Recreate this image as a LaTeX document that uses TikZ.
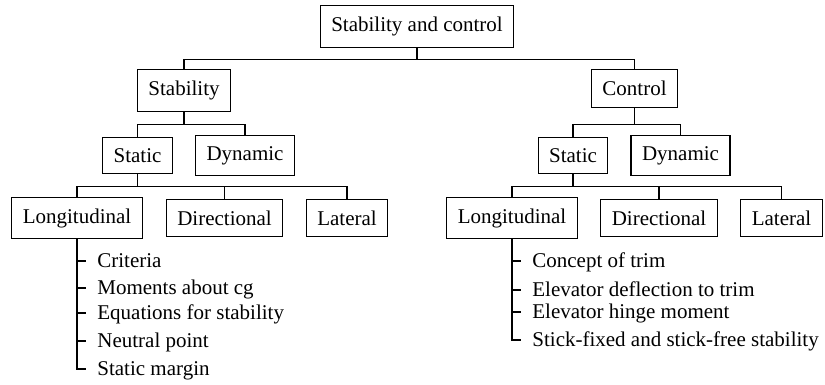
\documentclass[tikz,border=0pt]{standalone}
\usepackage{fontspec}
\setmainfont{Liberation Serif}
\tikzset{
  box/.style={draw, line width=0.55pt, inner xsep=5.5pt, inner ysep=5.6pt,
    font=\fontsize{10.5}{12}\selectfont},
  item/.style={anchor=base west, inner sep=0pt, font=\fontsize{10.5}{12}\selectfont},
  link/.style={line width=0.55pt}
}
\begin{document}
\begin{tikzpicture}[x=0.5pt,y=-0.5pt]
  \useasboundingbox (0,0) rectangle (825,385);
  % Tree of boxes
  \node[box] (top) at (417,26.5) {Stability and control};
  \node[box] (stab) at (184,90.5) {Stability};
  \node[box] (ctrl) at (634.5,88.5) {Control};
  \node[box] (lst) at (137.5,155.5) {Static};
  \node[box] (ldy) at (245,155.5) {Dynamic};
  \node[box] (rst) at (573,155.5) {Static};
  \node[box] (rdy) at (680.5,155.5) {Dynamic};
  \node[box] (llo) at (77,218) {Longitudinal};
  \node[box] (ldi) at (224.5,218) {Directional};
  \node[box] (lla) at (347,218) {Lateral};
  \node[box] (rlo) at (512,218) {Longitudinal};
  \node[box] (rdi) at (659,218) {Directional};
  \node[box] (rla) at (781.5,218) {Lateral};
  \foreach \p/\c/\d in {top/stab/12, top/ctrl/12, stab/lst/13, stab/ldy/13,
                        ctrl/rst/17, ctrl/rdy/17, lst/llo/12, lst/ldi/12,
                        lst/lla/12, rst/rlo/12, rst/rdi/12, rst/rla/12}{
    \draw[link] (\p.south) -- ++(0,\d) -| (\c.north);
  }
  % Topics under the longitudinal boxes
  \foreach \n/\t/\y in {sa/Criteria/267, sb/Moments about cg/294,
                        sc/Equations for stability/319, sd/Neutral point/347,
                        se/Static margin/375}{
    \node[item] (\n) at (97,\y) {\t};
    \draw[link] (llo.south) |- ([xshift=-5.5pt,yshift=3pt]\n.base west);
  }
  \foreach \n/\t/\y in {ca/Concept of trim/267, cb/Elevator deflection to trim/296,
                        cc/Elevator hinge moment/318,
                        cd/Stick-fixed and stick-free stability/346}{
    \node[item] (\n) at (532,\y) {\t};
    \draw[link] (rlo.south) |- ([xshift=-5.5pt,yshift=3pt]\n.base west);
  }
\end{tikzpicture}
\end{document}
